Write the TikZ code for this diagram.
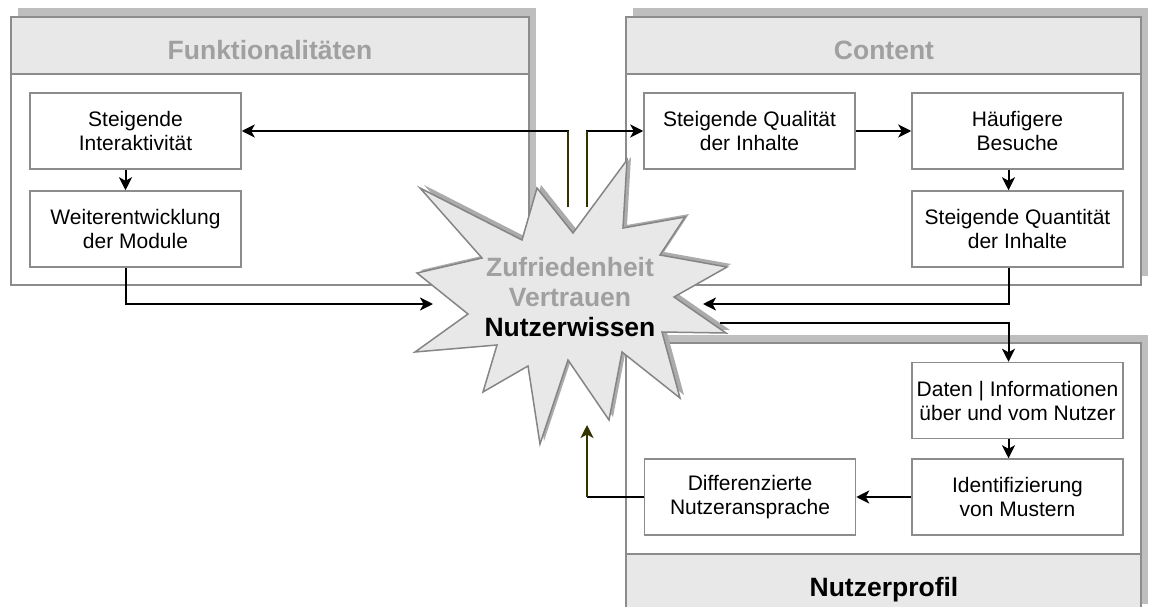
\documentclass[tikz,border=0pt]{standalone}
\usepackage{fontspec}
\setmainfont{Liberation Sans}
\usetikzlibrary{arrows.meta}

\definecolor{frameline}{HTML}{8C8C8C}
\definecolor{headfill}{HTML}{E8E8E8}
\definecolor{shadowgray}{HTML}{BEBEBE}
\definecolor{titlegray}{HTML}{A0A0A0}
\definecolor{starfill}{HTML}{E8E8E8}
\definecolor{starline}{HTML}{858585}
\definecolor{darkolive}{HTML}{333300}

\tikzset{
  stepbox/.style={draw=frameline, line width=1.5pt, fill=white,
    minimum width=211pt, minimum height=76pt, inner sep=0pt, align=center,
    font=\fontsize{21pt}{24pt}\selectfont},
  paneltitle/.style={anchor=base, font=\fontsize{26.5pt}{30pt}\selectfont\bfseries},
  frame/.style={draw=frameline, line width=2pt},
  flow/.style={draw=black, line width=2pt,
    -{Stealth[length=13pt, width=13pt, inset=3.5pt]}},
  oliveflow/.style={draw=darkolive, line width=2pt},
}

\begin{document}
\begin{tikzpicture}[x=1pt, y=-1pt]
\useasboundingbox (0,0) rectangle (1149,607);

% --- panel: Funktionalitaeten
\fill[shadowgray] (18,8) rectangle (536,276);
\filldraw[frame, fill=white] (11,17) rectangle (529,285);
\filldraw[frame, fill=headfill] (11,17) rectangle (529,74);
\node[paneltitle, text=titlegray] (ftitle) at (270,60) {Funktionalitäten};

% --- panel: Content
\fill[shadowgray] (633,8) rectangle (1148,276);
\filldraw[frame, fill=white] (626,17) rectangle (1141,285);
\filldraw[frame, fill=headfill] (626,17) rectangle (1141,74);
\node[paneltitle, text=titlegray] (ctitle) at (884,60) {Content};

% --- panel: Nutzerprofil
\fill[shadowgray] (633,335) rectangle (1148,604);
\filldraw[frame, fill=white] (626,343) rectangle (1141,614);
\filldraw[frame, fill=headfill] (626,554) rectangle (1141,614);
\node[paneltitle, text=black] (ntitle) at (884,596) {Nutzerprofil};

% --- process boxes
\node[stepbox] (inter) at (135.5,131) {Steigende\\Interaktivität};
\node[stepbox] (modul) at (135.5,229) {Weiterentwicklung\\der Module};
\node[stepbox] (qual)  at (749.5,131) {Steigende Qualität\\der Inhalte};
\node[stepbox] (haeuf) at (1017.5,131) {Häufigere\\Besuche};
\node[stepbox] (quant) at (1017.5,229) {Steigende Quantität\\der Inhalte};
\node[stepbox] (daten) at (1017.5,400.5) {Daten | Informationen\\über und vom Nutzer};
\node[stepbox] (ident) at (1017.5,497) {Identifizierung\\von Mustern};
\node[stepbox] (diff)  at (750,497) {Differenzierte\\Nutzeransprache};

% --- central burst with its shadow
\def\burst{(420,188) -- (522,240) -- (537,188) -- (573,233) -- (627,160)
  -- (623,228) -- (685,217) -- (660,255) -- (727,267) -- (674,297)
  -- (726,333) -- (662,332) -- (680,398) -- (622,352) -- (609,420)
  -- (568,360) -- (540,444) -- (528,366) -- (483,392) -- (497,345)
  -- (415,352) -- (468,314) -- (417,273) -- (482,258) -- cycle}
\fill[shadowgray!90!black, shift={(4,-3)}] \burst;
\filldraw[draw=starline, line width=1.5pt, fill=starfill, line join=miter] \burst;
\node[align=center, inner sep=0pt, font=\fontsize{26.5pt}{30pt}\selectfont\bfseries]
  (core) at (570,297)
  {\textcolor{titlegray}{Zufriedenheit}\\\textcolor{titlegray}{Vertrauen}\\Nutzerwissen};

% --- docking points on the burst outline
\coordinate (outL) at (568,207);
\coordinate (outR) at (587,207);
\coordinate (inW)  at (433,304);
\coordinate (inE)  at (703,304);
\coordinate (outE) at (720,323);
\coordinate (inS)  at (587,425);

% --- connectors
\draw[flow] (outL) |- (inter.east);
\draw[oliveflow] (outL) -- (outL |- inter.east);
\draw[flow] (outR) |- (qual.west);
\draw[oliveflow] (outR) -- (outR |- qual.west);

\draw[flow] ([xshift=-10pt]inter.south) -- ([xshift=-10pt]modul.north);
\draw[flow] ([xshift=-10pt]modul.south) |- (inW);

\draw[flow] (qual.east) -- (haeuf.west);
\draw[flow] ([xshift=-9pt]haeuf.south) -- ([xshift=-9pt]quant.north);
\draw[flow] ([xshift=-9pt]quant.south) |- (inE);

\draw[flow] (outE) -| ([xshift=-9pt]daten.north);
\draw[flow] ([xshift=-9pt]daten.south) -- ([xshift=-9pt]ident.north);
\draw[flow] (ident.west) -- (diff.east);

\coordinate (turn) at (inS |- diff.west);
\draw[line width=2pt] (diff.west) -- (turn);
\draw[oliveflow, -{Stealth[length=13pt, width=13pt, inset=3.5pt]}] (turn) -- (inS);
\end{tikzpicture}
\end{document}
